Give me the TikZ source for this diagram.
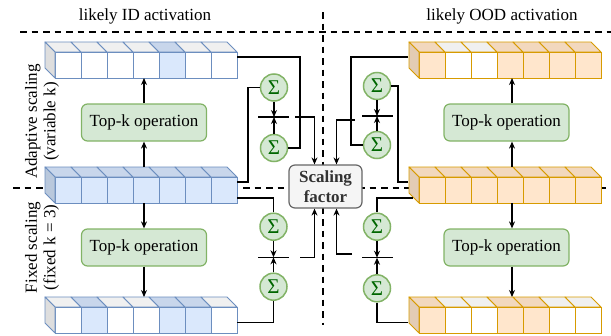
\documentclass[tikz,border=0pt]{standalone}
\usepackage{fontspec}
\setmainfont{Liberation Serif}
\usetikzlibrary{arrows.meta,calc}
\definecolor{BS}{HTML}{6C8EBF}
\definecolor{OS}{HTML}{D79B00}
\definecolor{cfw}{HTML}{FFFFFF}
\definecolor{ctw}{HTML}{F0F0F0}
\definecolor{csw}{HTML}{DEDEDE}
\definecolor{cfb}{HTML}{DAE8FC}
\definecolor{ctb}{HTML}{C8D6EB}
\definecolor{csb}{HTML}{B9C8DC}
\definecolor{cfo}{HTML}{FFE6CC}
\definecolor{cto}{HTML}{F2D8BE}
\definecolor{cso}{HTML}{E3CCB4}
\definecolor{GF}{HTML}{D5E8D4}
\definecolor{GS}{HTML}{82B366}
\definecolor{SG}{HTML}{006600}
\definecolor{SFF}{HTML}{F5F5F5}
\definecolor{SFS}{HTML}{666666}
\definecolor{SFT}{HTML}{333333}
\newcommand\cellrow[4]{%
  \foreach \t [count=\i from 0] in {#4} {
    \pgfmathsetmacro\cx{#1+26*\i}
    \filldraw[fill=ct\t, draw=#3, line width=0.9pt, line join=round] (\cx,#2) -- ++(26,0) -- ++(-10,-10) -- ++(-26,0) -- cycle;
    \filldraw[fill=cf\t, draw=#3, line width=0.9pt] (\cx,#2) rectangle ++(26,26);
    \ifnum\i=0
      \filldraw[fill=cs\t, draw=#3, line width=0.9pt, line join=round] (\cx,#2) -- ++(-10,-10) -- ++(0,26) -- ++(10,10) -- cycle;
    \fi
  }%
}
\tikzset{
  sep/.style={line width=2pt, dash pattern=on 6.5pt off 5pt},
  conn/.style={line width=1.3pt, line join=miter},
  arr/.style={conn, -{Stealth[length=7pt,width=6pt]}},
  fbar/.style={line width=1.1pt},
  topk/.style={draw=GS, fill=GF, line width=1.2pt, rounded corners=6pt, minimum width=125pt, minimum height=37pt, inner sep=0pt, font=\fontsize{17}{20}\selectfont},
  sig/.style={circle, draw=GS, fill=GF, line width=1.5pt, minimum size=27pt, inner sep=0pt, text=SG, font=\fontsize{21}{22}\selectfont},
  sfbox/.style={draw=SFS, fill=SFF, line width=1.2pt, rounded corners=6pt, minimum width=73pt, minimum height=43pt, inner sep=0pt, align=center, text=SFT, font=\fontsize{17}{20}\selectfont\bfseries},
  lab/.style={font=\fontsize{17}{20}\selectfont, inner sep=0pt},
  side/.style={font=\fontsize{17}{18.5}\selectfont, inner sep=0pt, rotate=90, align=center}
}
\begin{document}
\begin{tikzpicture}[x=1pt,y=-1pt]
\useasboundingbox (0,0) rectangle (611,335);
% separators
\draw[sep] (20,31.5) -- (611,31.5);
\draw[sep] (13,187.5) -- (611,187.5);
\draw[sep] (323,12) -- (323,325);
% titles
\node[lab] (t1) at (145,16) {likely ID activation};
\node[lab] (t2) at (502,16) {likely OOD activation};
\node[side] (s1) at (42,121.5) {Adaptive scaling\\(variable k)};
\node[side] (s2) at (42,247.5) {Fixed scaling\\(fixed k = 3)};
% vectors
\cellrow{55}{52}{BS}{w,w,w,w,b,w,w}
\cellrow{55}{177}{BS}{b,b,b,b,b,b,b}
\cellrow{55}{307}{BS}{w,b,w,w,b,b,w}
\cellrow{419}{52}{OS}{o,w,w,o,o,o,o}
\cellrow{419}{177}{OS}{o,o,o,o,o,o,o}
\cellrow{419}{307}{OS}{o,w,w,o,o,w,w}
% attachment points
\coordinate (ltb) at (144,78);
\coordinate (lmt) at (144,167);
\coordinate (lmb) at (144,203);
\coordinate (lbt) at (144,297);
\coordinate (rtb) at (512,78);
\coordinate (rmt) at (512,167);
\coordinate (rmb) at (512,203);
\coordinate (rbt) at (512,297);
\coordinate (ltr) at (237,57);
\coordinate (lmr1) at (237,182);
\coordinate (lmr2) at (237,198);
\coordinate (lbr) at (237,322.7);
\coordinate (rtl) at (408,57);
\coordinate (rml1) at (408,182);
\coordinate (rml2) at (413,198);
\coordinate (rbl) at (408,322.7);
% top-k boxes
\node[topk] (tk1) at (144,122.5) {Top-k operation};
\node[topk] (tk2) at (144,247.5) {Top-k operation};
\node[topk] (tk3) at (506.5,122.5) {Top-k operation};
\node[topk] (tk4) at (506.5,247.5) {Top-k operation};
\draw[arr] (lmt) -- (tk1.south);
\draw[arr] (tk1.north) -- (ltb);
\draw[arr] (lmb) -- (tk2.north);
\draw[arr] (tk2.south) -- (lbt);
\draw[arr] (rmt) -- (rmt |- tk3.south);
\draw[arr] (rtb |- tk3.north) -- (rtb);
\draw[arr] (rmb) -- (rmb |- tk4.north);
\draw[arr] (rbt |- tk4.south) -- (rbt);
% scaling factor
\node[sfbox] (sf) at (325.5,186.5) {Scaling\\factor};
% sigma circles
\node[sig] (ls1) at (274,87.5) {Σ};
\node[sig] (ls2) at (274,148) {Σ};
\node[sig] (ls3) at (273.5,226.7) {Σ};
\node[sig] (ls4) at (273.5,286.7) {Σ};
\node[sig] (rs1) at (377,86) {Σ};
\node[sig] (rs2) at (377,145) {Σ};
\node[sig] (rs3) at (377,226.7) {Σ};
\node[sig] (rs4) at (377,288.3) {Σ};
% fraction bars
\coordinate (lb1a) at (258,117); \coordinate (lb1b) at (288.5,117); \coordinate (lb1m) at (274,117);
\coordinate (lb2a) at (258,257.3); \coordinate (lb2b) at (288.5,257.3); \coordinate (lb2m) at (273.5,257.3);
\coordinate (rb1a) at (362,116); \coordinate (rb1b) at (393,116); \coordinate (rb1m) at (377,116);
\coordinate (rb2a) at (362,257.7); \coordinate (rb2b) at (393,257.7); \coordinate (rb2m) at (377,257.7);
\draw[fbar] (lb1a) -- (lb1b);
\draw[fbar] (lb2a) -- (lb2b);
\draw[fbar] (rb1a) -- (rb1b);
\draw[fbar] (rb2a) -- (rb2b);
\draw[arr] (ls1.south) -- (lb1m);
\draw[arr] (ls2.north) -- (lb1m);
\draw[arr] (ls3.south) -- (lb2m);
\draw[arr] (ls4.north) -- (lb2m);
\draw[arr] (rs1.south) -- (rb1m);
\draw[arr] (rs2.north) -- (rb1m);
\draw[arr] (rs3.south) -- (rb2m);
\draw[arr] (rs4.north) -- (rb2m);
% vector to sigma connectors
\draw[conn] (ltr) -| (300,148) -- (ls2.east);
\draw[conn] (lmr1) -| (248,87.5) -- (ls1.west);
\draw[conn] (lmr2) -| (ls3.north);
\draw[conn] (lbr) -| (ls4.south);
\draw[conn] (rtl) -| (351,145) -- (rs2.west);
\draw[conn] (rml1) -| (398,86) -- (rs1.east);
\draw[conn] (rml2) -| (rs3.north);
\draw[conn] (rbl) -| (rs4.south);
% connectors to scaling factor
\coordinate (lc1) at (295,117);
\coordinate (rc1) at (355,120);
\coordinate (lc2) at (300,257.3);
\coordinate (rc2) at (352,254);
\draw[arr] (lc1) -| ([xshift=-11pt]sf.north);
\draw[arr] (rc1) -| ([xshift=11pt]sf.north);
\draw[arr] (lc2) -| ([xshift=-11pt]sf.south);
\draw[arr] (rc2) -| ([xshift=11pt]sf.south);
\end{tikzpicture}
\end{document}
